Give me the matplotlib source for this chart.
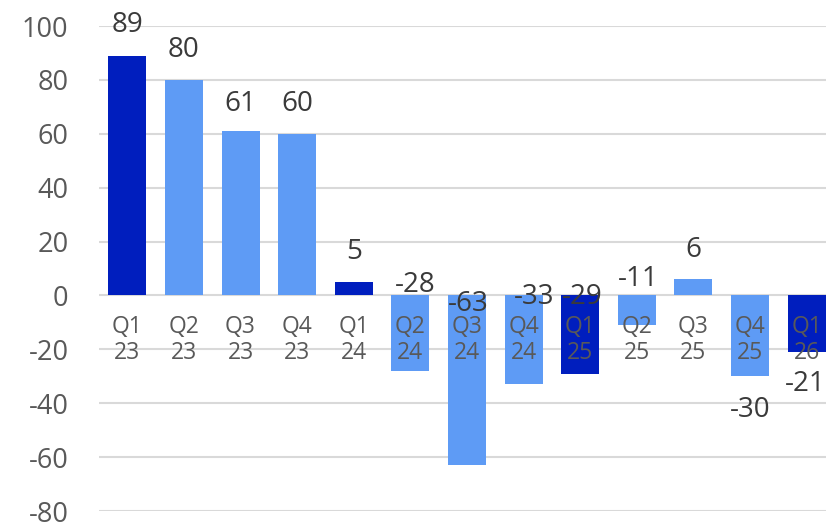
import matplotlib.pyplot as plt

plt.rcParams["font.family"] = ["Open Sans", "DejaVu Sans"]
plt.rcParams["axes.unicode_minus"] = False

QUARTERS = ["Q1", "Q2", "Q3", "Q4", "Q1", "Q2", "Q3", "Q4", "Q1", "Q2", "Q3", "Q4", "Q1"]
YEARS = ["23", "23", "23", "23", "24", "24", "24", "24", "25", "25", "25", "25", "26"]
VALUES = [89, 80, 61, 60, 5, -28, -63, -33, -29, -11, 6, -30, -21]

# where each data label sits (data units)
LABEL_Y = [100.4, 91, 71.2, 71.2, 16, 3.7, -3, -0.7, -0.7, 6, 16.8, -42.5, -33]
LABEL_DX = [0, 0, 0, 0, 0, 0.08, 0.03, 0.18, 0.03, 0.02, 0, 0, -0.02]

DARK = "#001EBE"
LIGHT = "#5E9BF5"
TEXT = "#3A3A3A"
GREY = "#595959"


def main() -> None:
    fig = plt.figure(figsize=(8.26, 5.22), dpi=100)
    ax = fig.add_axes([99 / 826, 1 - 511 / 522, 736 / 826, 485 / 522])

    x = list(range(len(VALUES)))
    colors = [DARK if q == "Q1" else LIGHT for q in QUARTERS]

    ax.bar(x, VALUES, width=0.67, color=colors, zorder=2)

    for i in x:
        ax.text(
            i + LABEL_DX[i],
            LABEL_Y[i],
            str(VALUES[i]),
            ha="center",
            va="center",
            fontsize=20,
            color=TEXT,
            zorder=4,
        )
        ax.text(
            i,
            -16.6,
            f"{QUARTERS[i]}\n{YEARS[i]}",
            ha="center",
            va="center",
            fontsize=16.5,
            color=GREY,
            linespacing=1.1,
            zorder=3,
        )

    ax.set_xlim(-0.5, 12.5)
    ax.set_ylim(-80, 100)
    ax.set_yticks(range(-80, 101, 20))
    ax.set_xticks([])
    ax.tick_params(axis="y", length=0, pad=22, labelsize=19.5, labelcolor=GREY)
    ax.grid(axis="y", color="#D9D9D9", linewidth=1.5, zorder=0)
    ax.set_axisbelow(True)

    for spine in ax.spines.values():
        spine.set_visible(False)

    fig.savefig("out.png", dpi=100)
    plt.close(fig)


if __name__ == "__main__":
    main()
